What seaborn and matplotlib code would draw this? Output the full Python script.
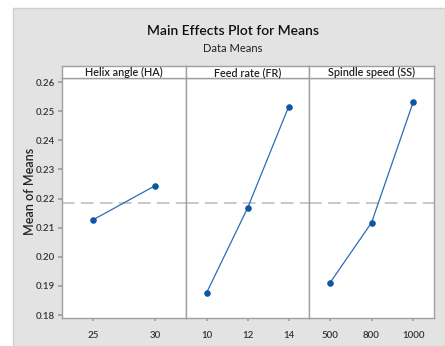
import numpy as np
import pandas as pd
import matplotlib
matplotlib.use("Agg")
import matplotlib.pyplot as plt
from matplotlib.patches import Rectangle
import seaborn as sns

# ---- data ----
factors = ["Helix angle (HA)", "Feed rate (FR)", "Spindle speed (SS)"]
ha_levels = ["25", "30"]
ha_means = [0.2127, 0.2244]
fr_levels = ["10", "12", "14"]
fr_means = [0.1876, 0.2167, 0.2514]
ss_levels = ["500", "800", "1000"]
ss_means = [0.1910, 0.2117, 0.2531]
y_ticks = [0.18, 0.19, 0.20, 0.21, 0.22, 0.23, 0.24, 0.25, 0.26]

levels_all = [ha_levels, fr_levels, ss_levels]
means_all = [ha_means, fr_means, ss_means]
grand_mean = float(np.mean([np.mean(m) for m in means_all]))

sns.set_theme(style="white")
plt.rcParams["font.family"] = ["Lato", "DejaVu Sans"]

W, H = 445, 346
fig = plt.figure(figsize=(W / 100, H / 100), dpi=100, facecolor="white")
# grey background panel
fig.patches.append(Rectangle((13 / W, 0), 1 - 13 / W, 1 - 8 / H, transform=fig.transFigure,
                             facecolor="#e3e3e3", edgecolor="#cfcfcf", linewidth=1.0, zorder=-10))

left, right = 62 / W, 434 / W
bottom, top = 1 - 318 / H, 1 - 78 / H
strip_h = 12 / H
widths = [124, 123, 125]
total = sum(widths)
line_col = "#2c6cb5"
mark_col = "#0b57a4"
spine_col = "#a0a0a0"
txt_col = "#333333"

x0 = left
for i, (fac, lev, mv) in enumerate(zip(factors, levels_all, means_all)):
    w = (right - left) * widths[i] / total
    ax = fig.add_axes([x0, bottom, w, top - bottom])
    sax = fig.add_axes([x0, top, w, strip_h])
    df = pd.DataFrame({"level": lev, "mean": mv})
    sns.pointplot(data=df, x="level", y="mean", order=lev, ax=ax, color=line_col,
                  markers="o", linestyles="-", markersize=4, linewidth=0.9, errorbar=None)
    for c in ax.collections:
        c.set_facecolor(mark_col)
        c.set_edgecolor(mark_col)
    for ln in ax.lines:
        ln.set_markerfacecolor(mark_col)
        ln.set_markeredgecolor(mark_col)
    ax.axhline(grand_mean, color="#c4c4c4", linestyle=(0, (7, 3.5)), linewidth=1.3, zorder=0)
    ax.set_xlim(-0.5, len(lev) - 0.5)
    ax.set_ylim(0.1790, 0.2614)
    ax.set_facecolor("white")
    ax.set_xlabel("")
    ax.set_ylabel("")
    for s in ax.spines.values():
        s.set_color(spine_col)
        s.set_linewidth(1.0)
    ax.tick_params(axis="x", length=2.5, color=spine_col, labelsize=7, labelcolor=txt_col, pad=7,
                   bottom=True)
    for t in ax.get_xticklabels():
        t.set_fontweight("semibold")
    if i == 0:
        ax.set_yticks(y_ticks)
        ax.set_yticklabels([f"{t:.2f}" for t in y_ticks])
        ax.tick_params(axis="y", length=3, color=spine_col, labelsize=7, labelcolor=txt_col, pad=2,
                       left=True)
        for t in ax.get_yticklabels():
            t.set_fontweight("semibold")
    else:
        ax.set_yticks(y_ticks)
        ax.tick_params(axis="y", left=False, labelleft=False)
    # strip
    sax.set_xticks([])
    sax.set_yticks([])
    sax.set_facecolor("white")
    for s in sax.spines.values():
        s.set_color(spine_col)
        s.set_linewidth(1.0)
    sax.text(0.5, 0.45, fac, ha="center", va="center", fontsize=7.8, color="#222222",
             fontweight="semibold", transform=sax.transAxes)
    x0 += w

fig.text(233 / W, 1 - 31 / H, "Main Effects Plot for Means", ha="center", va="center",
         fontsize=10, fontweight="semibold", color="#111111")
fig.text(233 / W, 1 - 49 / H, "Data Means", ha="center", va="center", fontsize=8,
         color="#222222")
fig.text(30 / W, 1 - 191 / H, "Mean of Means", ha="center", va="center", rotation=90,
         fontsize=9, fontweight="semibold", color="#222222")

fig.savefig("out.png", dpi=100, facecolor="white")
